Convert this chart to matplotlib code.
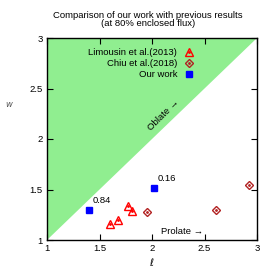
import matplotlib
matplotlib.use("Agg")
import matplotlib.pyplot as plt
from matplotlib.legend_handler import HandlerTuple

lim_x = [1.60, 1.68, 1.77, 1.81]
lim_y = [1.16, 1.20, 1.34, 1.29]
chiu_x = [1.95, 2.61, 2.92]
chiu_y = [1.28, 1.30, 1.54]
our_x = [1.40, 2.02]
our_y = [1.30, 1.51]
our_labels = ["0.84", "0.16"]

plt.rcParams['font.family'] = ['Liberation Sans', 'DejaVu Sans']
fig = plt.figure(figsize=(2.72, 2.72), dpi=100)
ax = fig.add_axes([47/272, 1 - 240/272, 210/272, 202/272])
ax.set_xlim(1, 3)
ax.set_ylim(1, 3)

ax.fill([1, 3, 1], [1, 3, 3], color='#90ee90', lw=0, zorder=0)

red = '#ff0000'
dred = '#b22222'
h1a, = ax.plot(lim_x, lim_y, ls='none', marker='^', ms=5.5, mfc='none', mec=red, mew=1.0)
h1b, = ax.plot(lim_x, lim_y, ls='none', marker='.', ms=2, color=red)
h2a, = ax.plot(chiu_x, chiu_y, ls='none', marker='D', ms=4.5, mfc='none', mec=dred, mew=1.0)
h2b, = ax.plot(chiu_x, chiu_y, ls='none', marker='.', ms=2, color=dred)
h3, = ax.plot(our_x, our_y, ls='none', marker='s', ms=5, color='#0000ff')

fs = 6.8
for x, y, t in zip(our_x, our_y, our_labels):
    ax.text(x + 0.03, y + 0.07, t, fontsize=fs)

ax.text(2.11, 2.24, "Oblate \u2192", rotation=45, fontsize=fs, ha='center', va='center')
ax.text(2.29, 1.08, "Prolate \u2192", fontsize=fs, ha='center', va='center')

leg = ax.legend([(h1a, h1b), (h2a, h2b), h3],
                ["Limousin et al.(2013)", "Chiu et al.(2018)", "Our work"],
                handler_map={tuple: HandlerTuple(ndivide=1, pad=0)},
                loc='upper right', bbox_to_anchor=(0.71, 0.95), frameon=False,
                fontsize=fs, markerfirst=False, handlelength=1.5,
                handletextpad=0.5, labelspacing=0.2, borderaxespad=0, borderpad=0)
leg._legend_box.align = "right"

ticks = [1, 1.5, 2, 2.5, 3]
ax.set_xticks(ticks)
ax.set_yticks(ticks)
ax.set_xticklabels(["1", "1.5", "2", "2.5", "3"])
ax.set_yticklabels(["1", "1.5", "2", "2.5", "3"])
ax.tick_params(direction='in', length=4, width=0.8, labelsize=fs,
               top=True, right=True, pad=3, colors='black')
for s in ax.spines.values():
    s.set_linewidth(1.0)

ax.set_xlabel(r"$\ell$", fontsize=7, labelpad=2)
ax.set_ylabel(r"$w$", fontsize=6, rotation=0, color='#555555')
ax.yaxis.set_label_coords(-0.18, 0.65)

fig.text(148/272, 1 - 15/272, "Comparison of our work with previous results", ha='center', va='center', fontsize=fs)
fig.text(148/272, 1 - 24/272, "(at 80% enclosed flux)", ha='center', va='center', fontsize=fs)

fig.savefig("out.png", dpi=100)
